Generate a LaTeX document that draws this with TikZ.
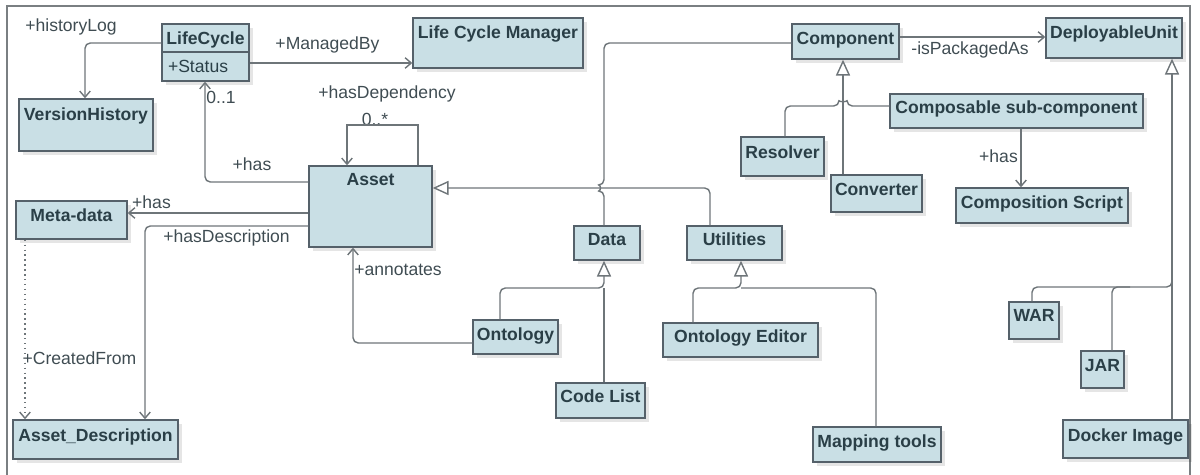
\documentclass[tikz,border=0pt]{standalone}
\usepackage{fontspec}
\setmainfont{Liberation Sans}
\usepackage{xcolor}
\usepackage{tikz}
\usetikzlibrary{arrows.meta, positioning, shadows}
\definecolor{boxfill}{HTML}{C9DFE5}
\definecolor{boxline}{HTML}{55616A}
\definecolor{boxtext}{HTML}{2A3F47}
\definecolor{wire}{HTML}{6E7579}
\definecolor{note}{HTML}{3F4C52}
\definecolor{frame}{HTML}{7A7F82}

\begin{document}
\begin{tikzpicture}[x=0.02cm, y=-0.02cm,
    cls/.style={draw=boxline, fill=boxfill, text=boxtext, font=\bfseries, line width=0.8pt,
        inner ysep=0pt, inner xsep=2pt,
        drop shadow={shadow xshift=2pt, shadow yshift=-2pt, opacity=0.1, fill=black}},
    sz/.style n args={3}{minimum width=#1*0.02cm, text height=#3*0.02cm, text depth=(#2-#3)*0.02cm},
    lbl/.style={text=note, inner sep=1pt},
    wireline/.style={draw=wire, line width=0.8pt, rounded corners=3pt},
    assoc/.style={wireline, -{Straight Barb[length=3.5pt, width=6pt]}},
    gen/.style={wireline, -{Triangle[open, length=9pt, width=8pt]}}]
        \useasboundingbox (0,0) rectangle (1200,475);
        \draw[frame, line width=0.8pt] (7,475) -- (7,6) -- (1190,6) -- (1190,475); % outer frame

        % classes
        \node[cls, sz={87}{28}{21}] (lifecycle) at (205.5,38) {LifeCycle};
        \node[cls, sz={87}{29}{21}, font=\normalfont, align=left, text width=1.5cm, inner xsep=0.12cm] (status) at (205.5,66.5) {+Status};
        \node[cls, sz={134}{52}{22}] (version) at (86,125) {VersionHistory};
        \node[cls, sz={170}{50}{21}] (lcm) at (498,43) {Life Cycle Manager};
        \node[cls, sz={123}{81}{20}] (asset) at (370.5,206.5) {Asset};
        \node[cls, sz={111}{38}{21}] (meta) at (71.5,220) {Meta-data};
        \node[cls, sz={165}{39}{22}] (assetdesc) at (95.5,439.5) {Asset\_Description};
        \node[cls, sz={66}{34}{20}] (data) at (607,243) {Data};
        \node[cls, sz={95}{34}{20}] (utilities) at (734.5,243) {Utilities};
        \node[cls, sz={85}{34}{21}] (ontology) at (515.5,337) {Ontology};
        \node[cls, sz={89}{35}{20}] (codelist) at (600.5,400.5) {Code List};
        \node[cls, sz={155}{34}{20}] (onteditor) at (740.5,340) {Ontology Editor};
        \node[cls, sz={128}{35}{21}] (mapping) at (877,444.5) {Mapping tools};
        \node[cls, sz={107}{35}{21}] (component) at (845.5,41.5) {Component};
        \node[cls, sz={136}{40}{21}] (deployable) at (1114,38) {DeployableUnit};
        \node[cls, sz={83}{39}{22}] (resolver) at (782.5,156.5) {Resolver};
        \node[cls, sz={91}{37}{21}] (converter) at (876.5,193.5) {Converter};
        \node[cls, sz={253}{34}{20}] (composable) at (1016.5,111) {Composable sub-component};
        \node[cls, sz={172}{35}{21}] (compscript) at (1042,205.5) {Composition Script};
        \node[cls, sz={50}{37}{20}] (war) at (1034,320.5) {WAR};
        \node[cls, sz={43}{37}{21}] (jar) at (1102.5,369.5) {JAR};
        \node[cls, sz={125}{38}{22}] (docker) at (1125.5,439) {Docker Image};

        % role labels
        \node[lbl] (historylog) at (71,27) {+historyLog};
        \node[lbl] (managedby) at (327.5,45) {+ManagedBy};
        \node[lbl] (multlc) at (221,97) {0..1};
        \node[lbl] (hasdep) at (387,94) {+hasDependency};
        \node[lbl] (multdep) at (375,119) {0..*};
        \node[lbl] (haslc) at (252,164) {+has};
        \node[lbl] (hasmeta) at (151.5,202) {+has};
        \node[lbl] (hasdesc) at (226.5,238) {+hasDescription};
        \node[lbl] (annotates) at (398,270) {+annotates};
        \node[lbl] (createdfrom) at (79.5,358) {+CreatedFrom};
        \node[lbl] (packaged) at (970,50) {-isPackagedAs};
        \node[lbl] (hasscript) at (998.5,156) {+has};

        % associations
        \draw[assoc] (lifecycle.west |- 0,43) -| (version.north -| 85,0);
        \draw[assoc] (status.east |- 0,63) -- (lcm.west |- 0,63);
        \draw[assoc] (asset.west |- 0,182) -| (status.south -| 205,0);
        \draw[assoc, rounded corners=0pt] (asset.north -| 418,0) -- (418,125) -- (347,125) -- (asset.north -| 347,0); % self loop
        \draw[assoc] (asset.west |- 0,213) -- (meta.east |- 0,213);
        \draw[assoc] (asset.west |- 0,226) -| (assetdesc.north -| 145,0);
        \draw[assoc, dotted] (meta.south -| 25,0) -- (assetdesc.north -| 25,0);
        \draw[assoc] (ontology.west |- 0,343) -| (asset.south -| 353,0);
        \draw[assoc] (component.east |- 0,37) -- (deployable.west |- 0,37);
        \draw[assoc] (composable.south -| 1021,0) -- (compscript.north -| 1021,0);
        \draw[wireline] (component.west |- 0,43) -| (604,185) .. controls (601,185) and (601,191) .. (604,191) -- (data.north -| 604,0);

        % generalizations
        \draw[gen] (utilities.north -| 710,0) |- (asset.east |- 0,188);
        \draw[gen] (ontology.north -| 500,0) |- (604,288) -- (data.south -| 604,0);
        \draw[wireline] (codelist.north -| 604,0) -- (604,288);
        \draw[gen] (onteditor.north -| 693,0) |- (741,288) -- (utilities.south -| 741,0);
        \draw[wireline] (mapping.north -| 876,0) |- (741,288);
        \draw[gen] (converter.north -| 843,0) -- (component.south -| 843,0);
        \draw[wireline] (resolver.north -| 785,0) |- (839,106) .. controls (839,102) and (847,102) .. (847,106) -- (composable.west |- 0,106);
        \draw[gen] (docker.north -| 1172,0) -- (deployable.south -| 1172,0);
        \draw[wireline] (war.north -| 1032,0) |- (1172,287) -- (1172,275);
        \draw[wireline] (jar.north -| 1112,0) |- (1130,287);
    \end{tikzpicture}
\end{document}
